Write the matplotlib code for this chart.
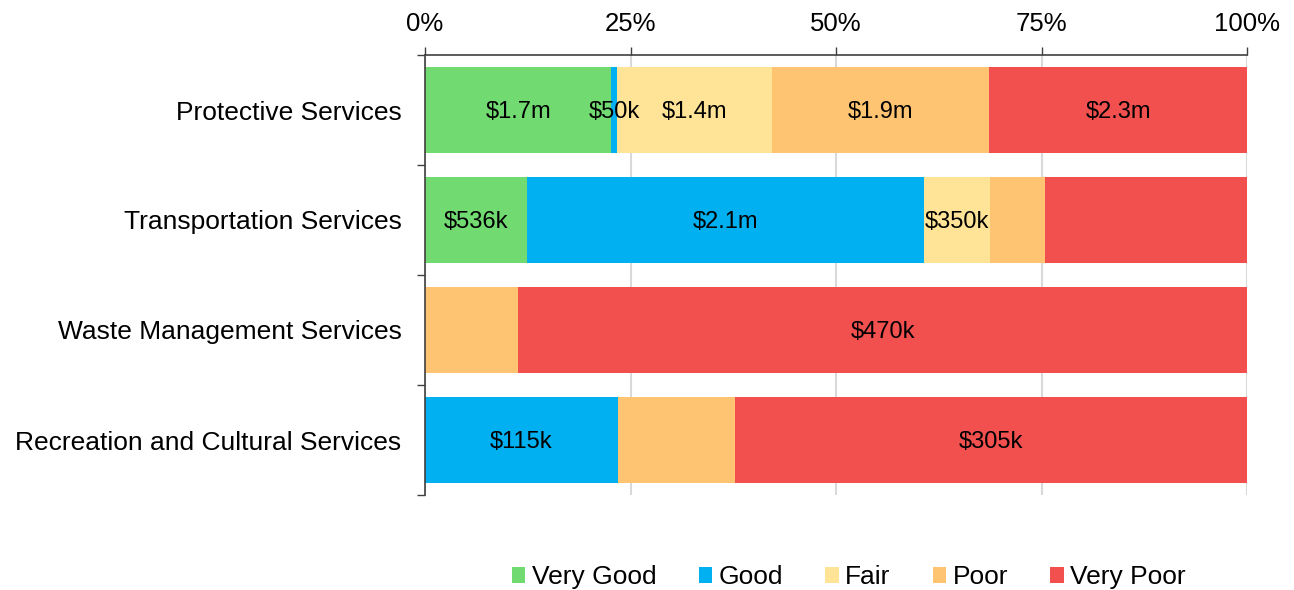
import matplotlib
matplotlib.use("Agg")
import matplotlib.pyplot as plt
import numpy as np
from matplotlib.patches import Patch

plt.rcParams['font.family'] = ['Liberation Sans', 'DejaVu Sans']

categories = ["Protective Services", "Transportation Services",
              "Waste Management Services", "Recreation and Cultural Services"]
conditions = ["Very Good", "Good", "Fair", "Poor", "Very Poor"]
colors = ["#71DB72", "#00B0F0", "#FFE498", "#FEC471", "#F24F4F"]

# replacement values, $ thousands
very_good = [1660, 536, 0, 0]
good = [50, 2085, 0, 115]
fair = [1380, 350, 0, 0]
poor = [1940, 290, 60, 70]
very_poor = [2300, 1060, 470, 305]

lbl_very_good = ["$1.7m", "$536k", None, None]
lbl_good = ["$50k", "$2.1m", None, "$115k"]
lbl_fair = ["$1.4m", "$350k", None, None]
lbl_poor = ["$1.9m", None, None, None]
lbl_very_poor = ["$2.3m", None, "$470k", "$305k"]

series = [very_good, good, fair, poor, very_poor]
labels = [lbl_very_good, lbl_good, lbl_fair, lbl_poor, lbl_very_poor]

vals = np.array(series, dtype=float)
share = vals / vals.sum(axis=0)

W, H = 1294, 590
fig = plt.figure(figsize=(W / 100, H / 100), dpi=100)
ax = fig.add_axes([425 / W, 1 - 495 / H, (1247 - 425) / W, (495 - 55) / H])

y = np.arange(len(categories))
left = np.zeros(len(categories))
for s, col, lbls in zip(share, colors, labels):
    ax.barh(y, s, left=left, height=0.773, color=col, edgecolor='none', zorder=2)
    for i, (v, l, t) in enumerate(zip(s, left, lbls)):
        if t:
            ax.text(l + v / 2, i, t, ha='center', va='center_baseline', fontsize=17,
                    color='black', zorder=3)
    left += s

ax.set_xlim(0, 1)
ax.set_ylim(len(categories) - 0.5, -0.5)
ax.xaxis.tick_top()
ax.set_xticks([0, 0.25, 0.5, 0.75, 1.0])
ax.set_xticklabels(["0%", "25%", "50%", "75%", "100%"], fontsize=18.5)
ax.tick_params(axis='x', direction='out', length=6, width=1, color='#404040', pad=8)
ax.grid(axis='x', color='#D9D9D9', linewidth=1.5, zorder=0)

ax.set_yticks(np.arange(-0.5, len(categories) + 0.5, 1.0))
ax.set_yticklabels([])
ax.tick_params(axis='y', which='major', direction='out', length=6, width=1, color='#404040')
ax.set_yticks(y, minor=True)
ax.set_yticklabels(categories, minor=True, fontsize=19)
ax.tick_params(axis='y', which='minor', length=0, pad=17)

for side in ['right', 'bottom']:
    ax.spines[side].set_visible(False)
for side in ['top', 'left']:
    ax.spines[side].set_color('#404040')
    ax.spines[side].set_linewidth(1.2)

handles = [Patch(facecolor=c, edgecolor='none') for c in colors]
fig.legend(handles, conditions, loc='center', bbox_to_anchor=(849 / W, 1 - 577 / H),
           ncol=5, frameon=False, fontsize=19, handlelength=0.5, handleheight=0.55,
           handletextpad=0.25, columnspacing=1.6)

fig.savefig("out.png", dpi=100)
